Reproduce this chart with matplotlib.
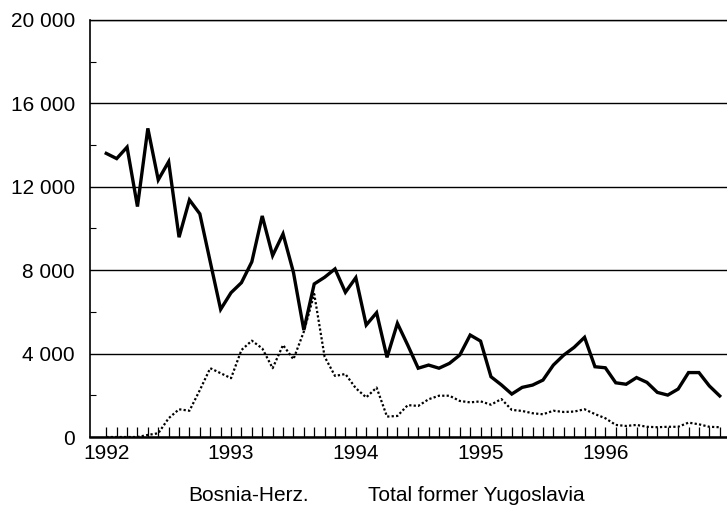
import numpy as np
import matplotlib
matplotlib.use('Agg')
import matplotlib.pyplot as plt
from matplotlib.ticker import MultipleLocator, FuncFormatter

plt.rcParams['font.family'] = ['Liberation Sans', 'DejaVu Sans']

# monthly values, Jan 1992 - Dec 1996
years = ['1992', '1993', '1994', '1995', '1996']
total_yugoslavia = [
    13600, 13350, 13900, 11050, 14800, 12330, 13200, 9580, 11370, 10700, 8400, 6120,
    6920, 7400, 8400, 10600, 8700, 9740, 7900, 5130, 7340, 7660, 8060, 6940,
    7640, 5370, 5960, 3820, 5450, 4400, 3300, 3450, 3300, 3530, 3930, 4890,
    4600, 2890, 2500, 2060, 2380, 2490, 2730, 3450, 3930, 4300, 4780, 3370,
    3320, 2600, 2530, 2850, 2620, 2140, 2010, 2300, 3090, 3090, 2450, 1970,
]
bosnia_herz = [
    0, 0, 0, 0, 100, 180, 900, 1330, 1260, 2250, 3300, 3060,
    2820, 4170, 4620, 4250, 3300, 4410, 3730, 5050, 6860, 3850, 2930, 3020,
    2340, 1900, 2370, 980, 1010, 1530, 1490, 1810, 1980, 1980, 1730, 1660,
    1710, 1550, 1820, 1300, 1250, 1140, 1090, 1260, 1200, 1220, 1330, 1100,
    900, 580, 530, 580, 490, 470, 490, 490, 690, 610, 490, 470,
]

months = np.arange(len(total_yugoslavia))

fig = plt.figure(figsize=(7.27, 5.24), dpi=100)
ax = fig.add_axes([0.124, 0.166, 0.876, 0.796])

ax.plot(months, total_yugoslavia, color='black', linewidth=2.4, solid_joinstyle='miter')
ax.plot(months, bosnia_herz, color='black', linewidth=1.6, linestyle=(0, (1, 1)))

ax.set_xlim(-1.55, 59.7)
ax.set_ylim(0, 20000)

# y axis: gridlines at majors, small inward ticks at minors
ax.yaxis.set_major_locator(MultipleLocator(4000))
ax.yaxis.set_minor_locator(MultipleLocator(2000))
ax.yaxis.set_major_formatter(FuncFormatter(lambda v, p: f'{int(v):,}'.replace(',', ' ')))
ax.yaxis.grid(True, which='major', color='black', linewidth=1.0)
ax.tick_params(axis='y', which='major', length=0, pad=11, labelsize=15)
ax.tick_params(axis='y', which='minor', direction='in', length=4, width=0.8)

# x axis: monthly inward ticks, year labels
ax.set_xticks(months, minor=True)
ax.set_xticks(months[::12])
ax.set_xticklabels(years)
ax.tick_params(axis='x', which='both', direction='in', length=7, width=0.9)
ax.tick_params(axis='x', which='major', labelsize=15, pad=5)

for side in ['right']:
    ax.spines[side].set_visible(False)
ax.spines['top'].set_linewidth(1.0)
ax.spines['left'].set_linewidth(1.2)
ax.spines['bottom'].set_linewidth(1.8)

fig.text(0.259, 0.055, 'Bosnia-Herz.', fontsize=15, va='center')
fig.text(0.506, 0.055, 'Total former Yugoslavia', fontsize=15, va='center')

plt.savefig('out.png', dpi=100)
